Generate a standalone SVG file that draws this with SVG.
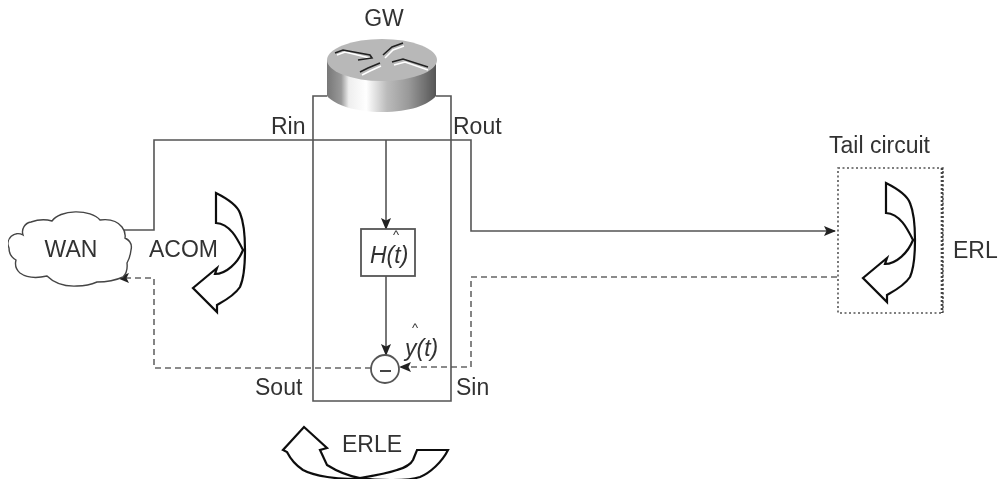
<svg xmlns="http://www.w3.org/2000/svg" width="1000" height="479" viewBox="0 0 1000 479">
<style>
text{font-family:"Liberation Sans",Arial,sans-serif;font-size:23px;fill:#333}
.i{font-style:italic}
.hat{font-size:13px}
.l{fill:none;stroke:#555;stroke-width:1.6}
.d{fill:none;stroke:#666;stroke-width:1.6;stroke-dasharray:6 4}
.b{fill:#fff;stroke:#555;stroke-width:1.8}
.c{fill:#fff;stroke:#111;stroke-width:2.2;stroke-linejoin:miter}
.ic{fill:none;stroke:#222;stroke-width:1.6}
.ih{fill:none;stroke:#fff;stroke-width:1.6}
</style>
<defs>
<filter id="soft" x="0" y="0" width="100%" height="100%"><feGaussianBlur stdDeviation="0.5"/></filter>
<marker id="a" markerWidth="12" markerHeight="10" refX="11" refY="5" orient="auto" markerUnits="userSpaceOnUse"><path d="M0 0L12 5L0 10L2.5 5Z" fill="#222"/></marker>
<linearGradient id="g" x1="0" x2="1" y1="0" y2="0">
<stop offset="0" stop-color="#777"/><stop offset=".13" stop-color="#999"/><stop offset=".2" stop-color="#eee"/><stop offset=".36" stop-color="#fff"/><stop offset=".55" stop-color="#bbb"/><stop offset=".75" stop-color="#999"/><stop offset="1" stop-color="#555"/>
</linearGradient>
<path id="curl" d="M216 193C228 199 237 205 240 213C245 225 245 240 245 250C245 265 244 278 240 287C234 296 224 301 217 305L217 312L193 288L217 268L215 274C226 274 238 263 243 250C237 238 230 224 216 223Z"/>
</defs>
<g filter="url(#soft)">
<g id="connectors">
<path class="l" d="M124 230H154V140H471V231H835" marker-end="url(#a)"/>
<path class="l" d="M386 140V229" marker-end="url(#a)"/>
<path class="l" d="M386 276V355" marker-end="url(#a)"/>
<path class="d" d="M837 277H471V367H400" marker-end="url(#a)"/>
<path class="d" d="M371 368H154V278H118" marker-end="url(#a)"/>
</g>
<g id="gw-box"><path class="l" d="M327 96H313V401H451V96H436"/></g>
<g id="gw">
<path d="M327 60V96C335 105 355 112 382 112C410 112 428 105 436 96V60Z" fill="url(#g)"/>
<ellipse cx="382" cy="60" rx="55" ry="21" fill="#b8b8b8"/>
<path class="ih" d="M337 55L345 52L370 58M385 58L393 50L404 46M394 65L405 62L428 70M362 75L370 71L381 66"/>
<path class="ic" d="M335 53L343 50L370 55L372 58L358 60M383 55L392 47L403 43M392 62L403 59L428 67M360 72L368 68L380 63"/>
<text x="384" y="26" text-anchor="middle">GW</text>
</g>
<g id="wan">
<path d="M9 248A10 10 0 0 1 23 235A10 10 0 0 1 31 222Q42 218 52 221A26 14 0 0 1 100 220Q115 218 122 227Q126 232 125 238Q133 242 131 250Q130 258 127 263Q128 272 123 277Q112 282 97 282Q88 286 77 286Q58 287 47 276Q30 280 20 273Q14 268 16 260Q9 256 9 248Z" fill="#fff" stroke="#444" stroke-width="1.4"/>
<text x="71" y="257" text-anchor="middle">WAN</text>
</g>
<g id="acom"><use href="#curl" class="c"/><text x="149" y="257">ACOM</text></g>
<g id="h"><rect class="b" x="361" y="229" width="54" height="47"/><text class="i" x="370" y="263">H(t)</text><text x="396" y="239" text-anchor="middle" class="hat">^</text></g>
<g id="sum"><circle class="b" cx="385" cy="369" r="14"/><path d="M380 371H391" stroke="#444" stroke-width="2"/><text class="i" x="405" y="356">y(t)</text><text x="415" y="332" text-anchor="middle" class="hat">^</text></g>
<g id="tail">
<rect x="838" y="168" width="105" height="145" fill="none" stroke="#555" stroke-width="1.6" stroke-dasharray="2 2.5"/>
<path d="M942 168V313" fill="none" stroke="#444" stroke-width="2.6" stroke-dasharray="2 2"/>
<use href="#curl" class="c" x="670" y="-10"/>
<text x="829" y="153">Tail circuit</text>
<text x="953" y="258">ERL</text>
</g>
<g id="erle">
<path class="c" d="M448 450H417L413 460C410 466 403 468 397 470C385 474 372 476 360 478C348 476 335 470 327 465L320 450L327 448L304 427L283 450L287 452C292 462 297 466 303 470C312 475 340 481 360 478C380 481 408 481 420 477C430 473 442 462 448 450Z"/>
<text x="342" y="452">ERLE</text>
</g>
<g id="labels">
<text x="271" y="134">Rin</text><text x="453" y="134">Rout</text><text x="255" y="395">Sout</text><text x="456" y="395">Sin</text>
</g>
</g>
</svg>
